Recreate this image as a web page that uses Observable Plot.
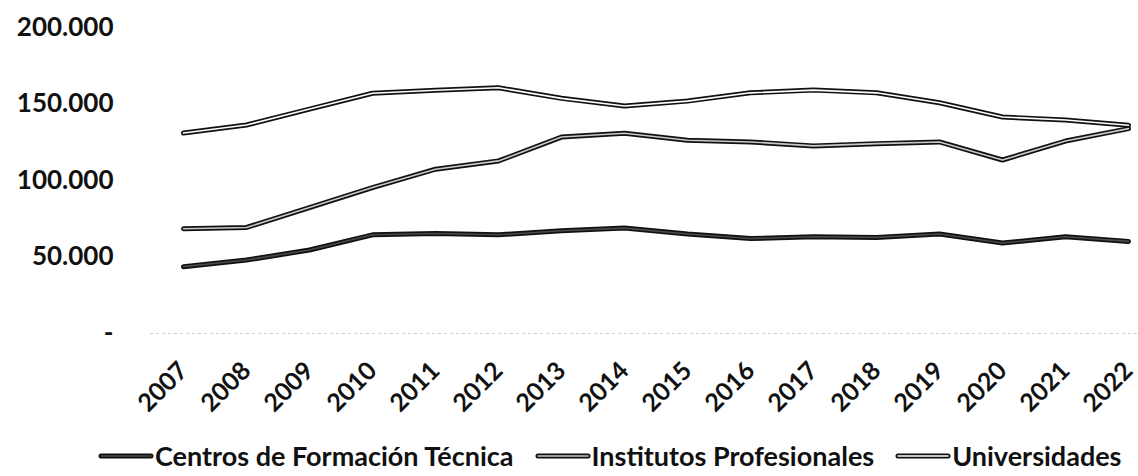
<!DOCTYPE html>
<html>
<head>
<meta charset="utf-8">
<script src="https://cdn.jsdelivr.net/npm/d3@7"></script>
<script src="https://cdn.jsdelivr.net/npm/@observablehq/plot@0.6"></script>
<style>
  html, body { margin: 0; padding: 0; background: #fff; overflow: hidden; }
  body { width: 1138px; height: 476px; font-family: Lato, "Open Sans", sans-serif; position: relative; }
  #chart svg { display: block; }
  #legend { position: absolute; left: 0; top: 438px; width: 1138px; height: 36px; box-sizing: border-box;
    padding-left: 98px; display: flex; align-items: center; justify-content: flex-start; font-family: Lato, sans-serif;
    font-size: 27px; line-height: 32px; font-weight: 700; color: #111; white-space: nowrap; }
  .item { display: flex; align-items: center; margin-right: 21px; }
  .item svg { margin-right: 1px; }
</style>
</head>
<body>
<div id="chart"></div>
<div id="legend"></div>
<script>
const years = [2007, 2008, 2009, 2010, 2011, 2012, 2013, 2014, 2015, 2016, 2017, 2018, 2019, 2020, 2021, 2022];
const seriesNames = ["Centros de Formación Técnica", "Institutos Profesionales", "Universidades"];
const centros = [43700, 48000, 54600, 64500, 65400, 64500, 67200, 68900, 65000, 62100, 63200, 62800, 65000, 59100, 63200, 60200];
const institutos = [68500, 69300, 82300, 95400, 107400, 112800, 128400, 130900, 126300, 125200, 122600, 124100, 125200, 113400, 125800, 133900];
const universidades = [131000, 136300, 146700, 157000, 159000, 160600, 153700, 148700, 151900, 157300, 159100, 157300, 150800, 141500, 139500, 136100];
const yTicks = [0, 50000, 100000, 150000, 200000];
const innerColors = ["#4a4a4a", "#c8c8c8", "#ffffff"];

const values = [centros, institutos, universidades];
const data = [];
seriesNames.forEach((s, i) => years.forEach((yr, j) => data.push({series: s, year: yr, value: values[i][j], k: i})));

const fmt = d => d === 0 ? "-" : d3.format(",")(d).replace(/,/g, ".");

const chart = Plot.plot({
  width: 1138,
  height: 438,
  marginLeft: 150,
  marginRight: -23,
  marginTop: 27,
  marginBottom: 105,
  style: {fontFamily: "Lato, sans-serif", fontSize: "26px", fontWeight: 700, color: "#111", background: "#fff"},
  x: {type: "point", domain: years, padding: 0.5},
  y: {domain: [0, 200000]},
  marks: [
    Plot.ruleY([0], {stroke: "#cfcfcf", strokeWidth: 1, strokeDasharray: "3,3"}),
    Plot.axisY({ticks: yTicks, tickFormat: fmt, tickSize: 0, tickPadding: 37, label: null, fontSize: 26, fontWeight: 700}),
    Plot.axisX({tickSize: 0, tickPadding: 33, tickRotate: -45, label: null, fontSize: 25, fontWeight: 700, tickFormat: d => String(d)}),
    Plot.line(data, {x: "year", y: "value", z: "series", stroke: "#111", strokeWidth: 5, strokeLinecap: "round", strokeLinejoin: "round"}),
    Plot.line(data, {x: "year", y: "value", z: "series", stroke: d => innerColors[d.k], strokeWidth: 1.6, strokeLinecap: "round", strokeLinejoin: "round"})
  ]
});
document.getElementById("chart").appendChild(chart);

const legend = document.getElementById("legend");
seriesNames.forEach((s, i) => {
  const item = document.createElement("div");
  item.className = "item";
  item.innerHTML = `<svg width="56" height="12"><line x1="3" y1="6" x2="53" y2="6" stroke="#111" stroke-width="5" stroke-linecap="round"/><line x1="3" y1="6" x2="53" y2="6" stroke="${innerColors[i]}" stroke-width="1.6" stroke-linecap="round"/></svg><span>${s}</span>`;
  legend.appendChild(item);
});
</script>
</body>
</html>
